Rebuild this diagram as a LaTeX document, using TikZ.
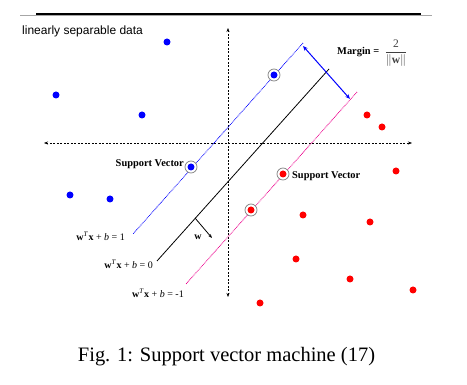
\documentclass[tikz,border=0pt]{standalone}
\usepackage{fontspec}
\setmainfont{Liberation Serif}
\newfontfamily\arialfont{Liberation Sans}
\usetikzlibrary{arrows.meta}

\begin{document}
\begin{tikzpicture}[x=1pt,y=-1pt,
    bluept/.style={circle, fill=blue, inner sep=0pt, minimum size=7pt},
    redpt/.style={circle, fill=red, inner sep=0pt, minimum size=7pt},
    svring/.style={circle, draw=gray, fill=white, line width=0.7pt, inner sep=0pt, minimum size=12pt},
    svlabel/.style={font=\fontsize{10.4}{12}\selectfont\bfseries, inner sep=0pt},
    eqlabel/.style={font=\fontsize{10}{12}\selectfont, inner sep=0pt},
    axis/.style={dash pattern=on 2pt off 1.5pt, line width=0.5pt, {Stealth[length=4pt,width=3pt]}-{Stealth[length=4pt,width=3pt]}}]
    \useasboundingbox (0,0) rectangle (467,385);

    % top rule
    \draw[gray!70, line width=0.5pt] (20,15.5) -- (432,15.5);
    \draw[black, line width=1.3pt] (36,14) -- (421,14);

    \node[font=\arialfont\fontsize{12}{14}\selectfont, anchor=west, inner sep=0pt] (title) at (22,31) {linearly separable data};

    % axes
    \coordinate (ytop) at (228,28);
    \coordinate (ybot) at (228,297);
    \coordinate (xleft) at (44,143);
    \coordinate (xright) at (412,143);
    \draw[axis] (ybot) -- (ytop);
    \draw[axis] (xleft) -- (xright);

    % hyperplanes
    \coordinate (plusA) at (303,43);
    \coordinate (plusB) at (133,234);
    \coordinate (zeroA) at (329,69);
    \coordinate (zeroB) at (157,261);
    \coordinate (minusA) at (357,92);
    \coordinate (minusB) at (186,284);
    \draw[blue, dash pattern=on 0.8pt off 0.8pt, line width=0.8pt] (plusA) -- (plusB);
    \draw[black, line width=0.8pt] (zeroA) -- (zeroB);
    \draw[magenta, dash pattern=on 0.8pt off 0.8pt, line width=0.8pt] (minusA) -- (minusB);

    % margin
    \coordinate (mA) at (303,46);
    \coordinate (mB) at (350,99);
    \draw[blue, line width=1pt, {Stealth[length=5pt,width=4pt]}-{Stealth[length=5pt,width=4pt]}] (mA) -- (mB);
    \node[font=\fontsize{10.4}{12}\selectfont\bfseries, anchor=west, inner sep=0pt] (margin) at (337,52) {Margin =};
    \node[inner sep=0pt, text=darkgray, font=\fontsize{11.5}{13}\selectfont] (frac) at (396,53) {$\displaystyle\frac{\mathrm{2}}{\|\mathbf{w}\|}$};

    % normal vector
    \coordinate (wbase) at (195,218);
    \coordinate (wtip) at (212,238);
    \draw[black, line width=0.8pt, -{Stealth[length=4pt,width=3pt]}] (wbase) -- (wtip);
    \node[eqlabel, font=\fontsize{10}{12}\selectfont\bfseries] (wlbl) at (198,237) {w};

    % blue class
    \node[bluept] (b1) at (167,42) {};
    \node[bluept] (b2) at (56,95) {};
    \node[bluept] (b3) at (142,115) {};
    \node[bluept] (b4) at (70,195) {};
    \node[bluept] (b5) at (110,199) {};
    \node[svring] (sb1) at (274,75) {};
    \node[bluept] (sb1dot) at (sb1) {};
    \node[svring] (sb2) at (191,167) {};
    \node[bluept] (sb2dot) at (sb2) {};

    % red class
    \node[redpt] (r1) at (367,115) {};
    \node[redpt] (r2) at (382,127) {};
    \node[redpt] (r3) at (396,171) {};
    \node[redpt] (r4) at (303,215) {};
    \node[redpt] (r5) at (370,222) {};
    \node[redpt] (r6) at (296,259) {};
    \node[redpt] (r7) at (350,279) {};
    \node[redpt] (r8) at (413,290) {};
    \node[redpt] (r9) at (260,303) {};
    \node[svring] (sr1) at (283,174) {};
    \node[redpt] (sr1dot) at (sr1) {};
    \node[svring] (sr2) at (251,210) {};
    \node[redpt] (sr2dot) at (sr2) {};

    % labels
    \node[svlabel, anchor=east] (svleft) at (184,164) {Support Vector};
    \node[svlabel, anchor=west] (svright) at (292,176) {Support Vector};
    \node[eqlabel, anchor=east] (eqplus) at (125,236) {\textbf{w}\textsuperscript{\textit{T}}\textbf{x} + \textit{b} = 1};
    \node[eqlabel, anchor=east] (eqzero) at (153,264) {\textbf{w}\textsuperscript{\textit{T}}\textbf{x} + \textit{b} = 0};
    \node[eqlabel, anchor=east] (eqminus) at (184,293) {\textbf{w}\textsuperscript{\textit{T}}\textbf{x} + \textit{b} = -1};

    \node[font=\fontsize{20.5}{24}\selectfont, inner sep=0pt] (caption) at (226.5,357) {Fig. 1: Support vector machine (17)};
\end{tikzpicture}
\end{document}
